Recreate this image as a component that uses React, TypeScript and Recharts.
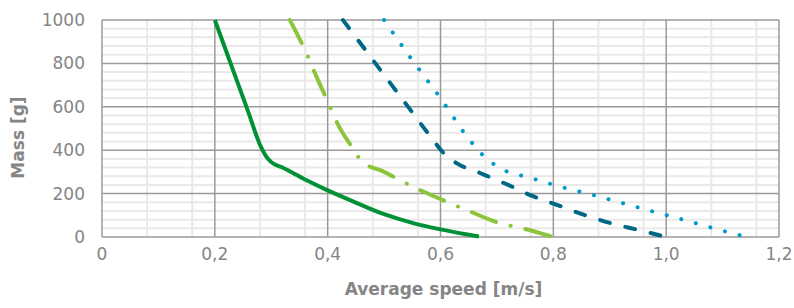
import { LineChart, Line, XAxis, YAxis, CartesianGrid, ReferenceLine } from 'recharts'

const speedTicks = [0, 0.2, 0.4, 0.6, 0.8, 1.0, 1.2]
const massTicks = [0, 200, 400, 600, 800, 1000]
const minorSpeed = [0.04, 0.08, 0.12, 0.16, 0.24, 0.28, 0.32, 0.36, 0.44, 0.48, 0.52, 0.56, 0.64, 0.68, 0.72, 0.76, 0.84, 0.88, 0.92, 0.96, 1.04, 1.08, 1.12, 1.16]
const minorMass = [40, 80, 120, 160, 240, 280, 320, 360, 440, 480, 520, 560, 640, 680, 720, 760, 840, 880, 920, 960]

// solid dark green
const solidSpeed = [0.2, 0.22, 0.24, 0.26, 0.28, 0.29, 0.3, 0.32, 0.36, 0.4, 0.44, 0.5, 0.55, 0.6, 0.64, 0.668]
const solidMass = [1000, 857, 714, 571, 425, 375, 345, 320, 265, 215, 170, 105, 65, 35, 15, 2]
// dash-dot light green
const dashDotSpeed = [0.333, 0.36, 0.38, 0.4, 0.42, 0.443, 0.46, 0.5, 0.55, 0.6, 0.65, 0.7, 0.75, 0.8]
const dashDotMass = [1000, 860, 740, 625, 510, 415, 350, 300, 233, 175, 120, 68, 37, 0]
// dashed dark teal
const dashSpeed = [0.427, 0.46, 0.5, 0.54, 0.58, 0.61, 0.63, 0.67, 0.72, 0.76, 0.81, 0.86, 0.91, 0.95, 1.0]
const dashMass = [1000, 886, 747, 609, 471, 375, 338, 295, 240, 192, 145, 97, 58, 33, 0]
// dotted light blue
const dotSpeed = [0.5, 0.55, 0.6, 0.645, 0.68, 0.705, 0.76, 0.815, 0.87, 0.92, 0.98, 1.03, 1.09, 1.143]
const dotMass = [1000, 815, 640, 470, 365, 318, 272, 230, 194, 158, 115, 80, 36, 0]

const toPoints = (xs: number[], ys: number[]) => xs.map((x, i) => ({ x, y: ys[i] }))

const FONT = '"DejaVu Sans", sans-serif'
const TXT = '#858585'

function fmtSpeed(v: number) {
  return v === 0 ? '0' : v.toFixed(1).replace('.', ',')
}

export default function App() {
  return (
    <div style={{ position: 'absolute', left: 0, top: 0, width: 794, height: 308, background: '#fff' }}>
      <LineChart width={794} height={308} margin={{ top: 20, right: 15, bottom: 0, left: 0 }}>
        <CartesianGrid verticalValues={minorSpeed} horizontal={false} stroke="#e9e9e9" strokeWidth={2} />
        {minorMass.map((m) => (
          <ReferenceLine key={`m${m}`} y={m} stroke="#e9e9e9" strokeWidth={2} />
        ))}
        {speedTicks.map((s) => (
          <ReferenceLine key={`s${s}`} x={s} stroke="#9a9a9a" strokeWidth={1.5} />
        ))}
        {massTicks.map((m) => (
          <ReferenceLine key={`M${m}`} y={m} stroke="#9a9a9a" strokeWidth={1.5} />
        ))}
        <XAxis
          dataKey="x"
          type="number"
          domain={[0, 1.2]}
          ticks={speedTicks}
          allowDuplicatedCategory={false}
          axisLine={false}
          tickLine={false}
          tickSize={0}
          tickMargin={11}
          height={71}
          tick={{ fill: TXT, fontSize: 17, fontFamily: FONT }}
          tickFormatter={fmtSpeed}
          label={{
            content: ({ viewBox }: any) => (
              <text x={viewBox.x + viewBox.width / 2 + 3} y={viewBox.y + 58} textAnchor="middle" fill={TXT} fontSize={17} fontWeight="bold" fontFamily={FONT}>
                Average speed [m/s]
              </text>
            ),
          }}
        />
        <YAxis
          type="number"
          domain={[0, 1000]}
          ticks={massTicks}
          axisLine={false}
          tickLine={false}
          tickSize={0}
          tickMargin={17}
          width={102}
          tick={{ fill: TXT, fontSize: 17, fontFamily: FONT }}
          label={{
            content: ({ viewBox }: any) => {
              const cx = viewBox.x + 17.5
              const cy = viewBox.y + viewBox.height / 2 + 9
              return (
                <text x={cx} y={cy} transform={`rotate(-90 ${cx} ${cy})`} textAnchor="middle" dominantBaseline="central" fill={TXT} fontSize={17} fontWeight="bold" fontFamily={FONT}>
                  Mass [g]
                </text>
              )
            },
          }}
        />
        <Line data={toPoints(solidSpeed, solidMass)} dataKey="y" type="monotone" stroke="#009036" strokeWidth={4} dot={false} isAnimationActive={false} />
        <Line data={toPoints(dashDotSpeed, dashDotMass)} dataKey="y" type="monotone" stroke="#8cc43c" strokeWidth={4} strokeDasharray="26 15 0.1 15" strokeLinecap="round" dot={false} isAnimationActive={false} />
        <Line data={toPoints(dashSpeed, dashMass)} dataKey="y" type="monotone" stroke="#006887" strokeWidth={4} strokeDasharray="10 16" strokeLinecap="round" dot={false} isAnimationActive={false} />
        <Line data={toPoints(dotSpeed, dotMass)} dataKey="y" type="monotone" stroke="#0099cc" strokeWidth={4} strokeDasharray="0.1 15" strokeLinecap="round" dot={false} isAnimationActive={false} />
      </LineChart>
    </div>
  )
}
